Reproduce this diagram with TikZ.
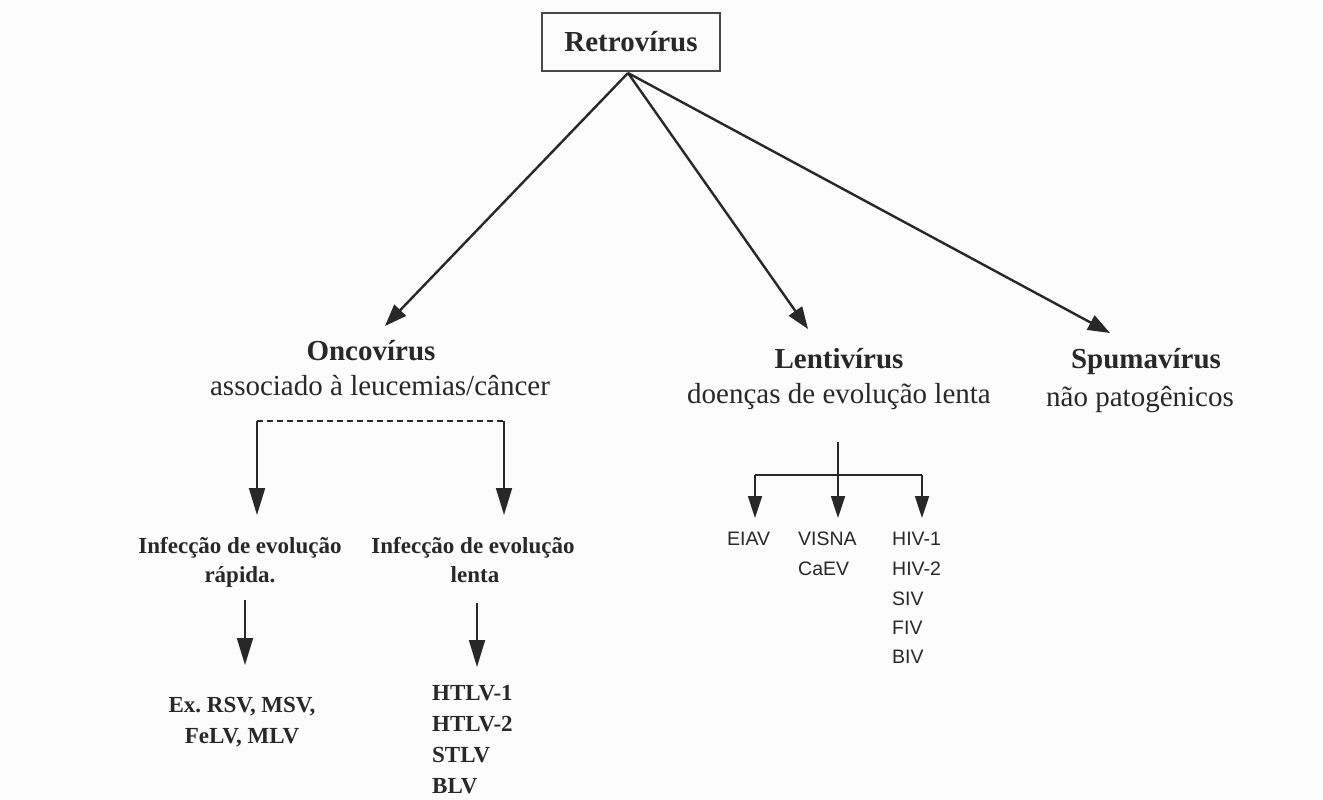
\documentclass[tikz,border=0pt]{standalone}
\usepackage{fontspec}
\setmainfont{Liberation Serif}
\newfontfamily\labelsans{Liberation Sans}
\usetikzlibrary{arrows.meta}
\definecolor{ink}{RGB}{40,40,40}
\definecolor{paper}{RGB}{252,252,252}
\frenchspacing
\begin{document}
\begin{tikzpicture}[x=1pt,y=-1pt,
  every node/.style={text=ink, inner sep=0pt},
  title/.style={font=\fontsize{29}{32}\selectfont\bfseries, anchor=base},
  subtitle/.style={font=\fontsize{29}{32}\selectfont, anchor=base},
  item/.style={font=\fontsize{23}{26}\selectfont\bfseries, anchor=base},
  sans/.style={font=\labelsans\fontsize{19.5}{22}\selectfont, anchor=base west},
  bigarrow/.style={draw=ink, line width=2.4pt, -{Triangle[length=22pt,width=16pt]}},
  midarrow/.style={draw=ink, line width=1.9pt, -{Triangle[length=27pt,width=16pt]}},
  smallarrow/.style={draw=ink, line width=1.7pt, -{Triangle[length=22pt,width=14pt]}},
  link/.style={draw=ink, line width=1.7pt}
]
\fill[paper] (0,0) rectangle (1323,800);
\useasboundingbox (0,0) rectangle (1323,800);

% root
\node[draw=ink!85, line width=2pt, minimum width=178pt, minimum height=58pt,
      font=\fontsize{29}{32}\selectfont\bfseries] (retro) at (631,42) {Retrovírus};

% three families
\node[title] (onco) at (371,360) {Oncovírus};
\node[subtitle] (oncod) at (380,395) {associado à leucemias/câncer};
\node[title] (lenti) at (839,368) {Lentivírus};
\node[subtitle] (lentid) at (839,403) {doenças de evolução lenta};
\node[title] (spuma) at (1146,368) {Spumavírus};
\node[subtitle] (spumad) at (1140,406) {não patogênicos};

\coordinate (tOnco) at (385,326);
\coordinate (tLenti) at (808,329);
\coordinate (tSpuma) at (1110,333);
\coordinate (root) at (628,73);
\draw[bigarrow] (root) -- (tOnco);
\draw[bigarrow] (root) -- (tLenti);
\draw[bigarrow] (root) -- (tSpuma);

% oncovirus branches
\coordinate (dL) at (257,421);
\coordinate (dR) at (504,421);
\coordinate (dLt) at (257,515);
\coordinate (dRt) at (504,515);
\draw[draw=ink, line width=1.5pt, dash pattern=on 6pt off 4pt] (dL) -- (dR);
\draw[midarrow] (dL) -- (dLt);
\draw[midarrow] (dR) -- (dRt);

\node[item] (fast1) at (240,553) {Infecção de evolução};
\node[item] (fast2) at (240,582) {rápida.};
\node[item] (slow1) at (473,553) {Infecção de evolução};
\node[item] (slow2) at (475,582) {lenta};

\coordinate (fA) at (245,600);
\coordinate (fB) at (245,665);
\coordinate (sA) at (477,603);
\coordinate (sB) at (477,667);
\draw[midarrow] (fA) -- (fB);
\draw[midarrow] (sA) -- (sB);

\node[item] (ex1) at (242,712) {Ex. RSV, MSV,};
\node[item] (ex2) at (242,743) {FeLV, MLV};
\node[item, anchor=base west] (h1) at (432,700) {HTLV-1};
\node[item, anchor=base west] (h2) at (432,731) {HTLV-2};
\node[item, anchor=base west] (h3) at (432,762) {STLV};
\node[item, anchor=base west] (h4) at (432,793) {BLV};

% lentivirus branches
\coordinate (lTop) at (838,442);
\coordinate (lMid) at (838,475);
\coordinate (lLeft) at (755,475);
\coordinate (lRight) at (922,475);
\coordinate (lTipL) at (755,518);
\coordinate (lTipM) at (838,518);
\coordinate (lTipR) at (922,518);
\draw[link] (lTop) -- (lMid);
\draw[link] (lLeft) -- (lRight);
\draw[smallarrow] (lLeft) -- (lTipL);
\draw[smallarrow] (lMid) -- (lTipM);
\draw[smallarrow] (lRight) -- (lTipR);

\node[sans] (eiav) at (727,545) {EIAV};
\node[sans] (visna) at (798,545) {VISNA};
\node[sans] (caev) at (798,575) {CaEV};
\node[sans] (hiv1) at (892,545) {HIV-1};
\node[sans] (hiv2) at (892,575) {HIV-2};
\node[sans] (siv) at (892,605) {SIV};
\node[sans] (fiv) at (892,634) {FIV};
\node[sans] (biv) at (892,663) {BIV};
\end{tikzpicture}
\end{document}
